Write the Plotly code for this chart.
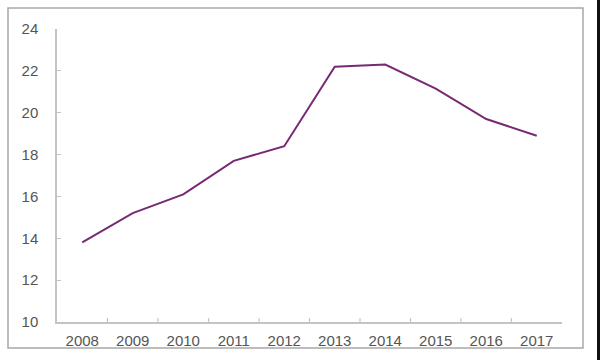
import plotly.graph_objects as go

years = ["2008", "2009", "2010", "2011", "2012", "2013", "2014", "2015", "2016", "2017"]
values = [13.8, 15.2, 16.1, 17.7, 18.4, 22.2, 22.3, 21.15, 19.7, 18.9]
y_ticks = [10, 12, 14, 16, 18, 20, 22, 24]

fig = go.Figure()
fig.add_trace(go.Scatter(
    x=years, y=values, mode="lines",
    line=dict(color="#762a72", width=2),
    hoverinfo="x+y",
))

axis_color = "#c4c4c4"
font_color = "#555555"

fig.update_layout(
    width=600, height=360,
    margin=dict(l=57, r=38, t=29, b=38),
    paper_bgcolor="white", plot_bgcolor="white",
    showlegend=False,
    font=dict(family="Liberation Sans, Arial, sans-serif", size=15, color=font_color),
    xaxis=dict(
        type="category", range=[-0.5, 9.5],
        showgrid=False, zeroline=False,
        showline=True, linecolor=axis_color, linewidth=1.5,
        ticks="", tickfont=dict(size=15, color=font_color),
        ticklabelstandoff=4,
    ),
    yaxis=dict(
        range=[10, 24], tickvals=y_ticks,
        showgrid=False, zeroline=False,
        showline=True, linecolor=axis_color, linewidth=1.5,
        ticks="inside", ticklen=4, tickcolor=axis_color,
        tickfont=dict(size=15, color=font_color),
        ticklabelstandoff=14,
    ),
    shapes=[
        # outer chart border
        dict(type="rect", xref="paper", yref="paper",
             x0=-49/505, x1=(583-57)/505, y0=-(348-322)/293, y1=(322-8)/293,
             line=dict(color="#a8a8a8", width=1.5), layer="below"),
        # dark edge at the far right of the picture
        dict(type="rect", xref="paper", yref="paper",
             x0=(597-57)/505, x1=(601-57)/505, y0=-40/293, y1=332/293,
             line=dict(width=0), fillcolor="#111111", layer="above"),
    ],
)

# category dividers (tick marks between categories on the x axis)
for i in range(1, 10):
    fig.add_shape(type="line", xref="x", yref="paper",
                  x0=i - 0.5, x1=i - 0.5, y0=0, y1=4/293,
                  line=dict(color=axis_color, width=1.2))

fig.write_html(
    "out.html",
    config={"displayModeBar": False},
    post_script="document.body.style.margin='0';document.body.style.overflow='hidden';",
)
